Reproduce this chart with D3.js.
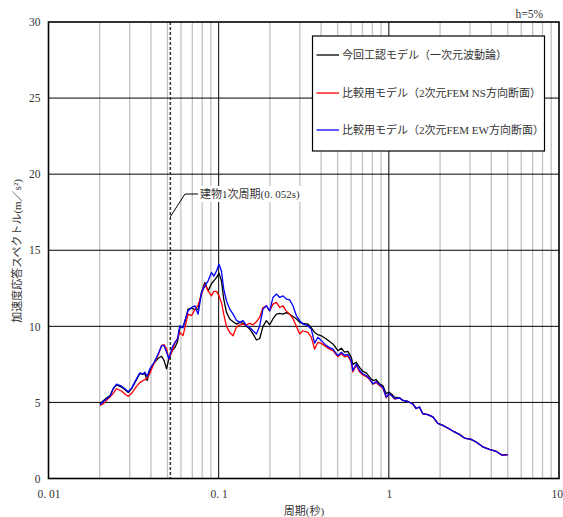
<!DOCTYPE html>
<html><head><meta charset="utf-8">
<script src="https://cdn.jsdelivr.net/npm/d3@7"></script>
<style>body{margin:0;background:#fff} svg{display:block}</style>
</head><body><svg id="chart" width="563" height="517"></svg>
<script>
// Period (s)
const periods = [0.0201,0.0209,0.0220,0.0230,0.0240,0.0251,0.0269,0.0281,0.0294,0.0308,
0.0329,0.0344,0.0360,0.0368,0.0380,0.0394,0.0418,0.0441,0.0462,0.0478,
0.0494,0.0510,0.0533,0.0553,0.0573,0.0591,0.0618,0.0633,0.0661,0.0693,
0.0724,0.0757,0.0793,0.0829,0.0867,0.0907,0.0936,0.0971,0.1005,0.1038,
0.1071,0.1111,0.1162,0.1215,0.1272,0.1330,0.1391,0.1456,0.1522,0.1592,
0.1667,0.1743,0.1822,0.1908,0.1995,0.2086,0.2184,0.2284,0.2388,0.2500,
0.2614,0.2733,0.2862,0.2992,0.3128,0.3346,0.3504,0.3664,0.3831,0.4012,
0.4292,0.4487,0.4693,0.5020,0.5257,0.5495,0.5745,0.6015,0.6147,0.6436,
0.6730,0.7037,0.7368,0.7704,0.8055,0.8435,0.8819,0.9221,0.9654,1.000,
1.037,1.080,1.156,1.208,1.293,1.383,1.448,1.514,1.583,1.694,
1.813,1.940,2.075,2.220,2.430,2.599,2.781,3.045,3.258,3.562,
3.899,4.268,4.630,5.000];
// 今回工認モデル（一次元波動論） (m/s2)
const accelOneDim = [4.9,5.1,5.3,5.45,5.9,6.15,6.0,5.85,5.65,5.9,
6.5,6.9,6.85,6.9,6.44,7.1,7.6,7.9,8.03,7.75,
7.2,7.9,8.4,8.6,9.0,9.9,10.0,10.3,11.13,11.2,
11.1,11.13,12.23,12.88,12.33,12.8,12.99,13.2,13.5,13.0,
11.79,10.92,10.48,10.3,10.15,10.26,10.2,10.0,9.82,9.5,
9.1,9.2,10.0,10.37,10.1,10.5,10.8,10.85,10.8,10.9,
10.8,10.65,10.5,10.26,10.2,10.15,9.9,9.6,9.45,9.38,
9.17,9.0,8.84,8.4,8.56,8.3,8.35,7.97,7.5,7.64,
7.3,7.05,6.94,6.66,6.44,6.5,6.22,6.11,5.57,5.68,
5.55,5.35,5.3,5.13,5.06,4.91,4.6,4.7,4.26,4.2,
4.05,3.62,3.49,3.32,3.06,2.9,2.66,2.57,2.4,2.08,
1.92,1.79,1.53,1.57];
// 比較用モデル（2次元FEM NS方向断面）
const accelNS = [4.8,4.9,5.15,5.35,5.6,5.9,5.75,5.55,5.4,5.6,
6.05,6.3,6.44,6.5,6.6,6.9,7.6,8.1,8.75,8.8,
8.5,7.86,8.4,8.9,9.2,9.6,9.4,9.9,10.8,10.7,
11.1,11.4,12.1,12.77,12.33,12.0,12.3,12.3,12.0,11.57,
10.8,10.0,9.6,9.38,9.95,10.1,10.15,10.1,10.2,10.1,
10.3,10.6,11.24,11.35,11.02,11.46,11.57,11.24,11.35,11.0,
10.8,10.5,10.0,9.5,9.71,9.6,9.28,8.51,8.95,8.88,
8.65,8.5,8.4,8.0,8.2,8.0,8.05,7.65,7.0,7.45,
7.0,6.8,6.7,6.5,6.2,6.3,6.1,5.95,5.3,5.55,
5.45,5.22,5.29,5.13,5.06,4.91,4.6,4.7,4.26,4.2,
4.05,3.62,3.49,3.32,3.06,2.9,2.66,2.57,2.4,2.08,
1.92,1.79,1.53,1.57];
// 比較用モデル（2次元FEM EW方向断面）
const accelEW = [4.85,5.04,5.24,5.4,5.9,6.2,6.07,5.9,5.7,5.94,
6.55,6.94,6.88,6.99,6.72,7.2,7.64,8.19,8.73,8.73,
8.3,7.86,8.62,8.95,9.17,10.04,9.9,10.37,11.02,11.24,
11.35,10.8,12.23,12.66,12.99,13.54,13.3,13.64,14.08,13.64,
12.44,11.68,11.13,10.8,10.4,10.26,10.37,10.04,9.93,9.71,
9.5,10.04,11.13,11.35,11.02,11.9,12.12,11.9,12.0,11.79,
11.74,11.35,10.7,10.37,10.15,10.04,9.8,8.9,9.28,9.06,
8.73,8.6,8.5,8.07,8.3,8.1,8.15,7.75,7.09,7.53,
7.1,6.88,6.77,6.55,6.22,6.37,6.16,6.0,5.35,5.57,
5.46,5.25,5.29,5.13,5.06,4.91,4.6,4.7,4.26,4.2,
4.05,3.62,3.49,3.32,3.06,2.9,2.66,2.57,2.4,2.08,
1.92,1.79,1.53,1.57];

const seriesNames = ["今回工認モデル（一次元波動論）","比較用モデル（2次元FEM NS方向断面）","比較用モデル（2次元FEM EW方向断面）"];
const seriesColors = ["#000000","#ff0000","#0000ff"];
const xTickValues = [0.01,0.1,1,10];
const xTickLabels = ["0. 01","0. 1","1","10"];
const yTickValues = [0,5,10,15,20,25,30];
const buildingPeriod = 0.052;
const annotationText = "建物1次周期(0. 052s)";
const dampingText = "h=5%";
const xTitle = "周期(秒)";
const yTitle = "加速度応答スペクトル(m／s²)";

const svg = d3.select("#chart");
const L = 48.5, R = 559, T = 22, B = 478.5;
const x = d3.scaleLog().domain([0.01,10]).range([L,R]);
const y = d3.scaleLinear().domain([0,30]).range([B,T]);
const serif = "'Liberation Serif','Noto Sans CJK JP',serif";
const cjk = "'Liberation Serif','Noto Sans CJK JP',sans-serif";

// minor vertical grid
const minor = [];
[0.01,0.1,1].forEach(d => { for (let k=2;k<=9;k++) minor.push(d*k); });
svg.append("g").selectAll("line").data(minor).join("line")
  .attr("x1",d=>x(d)).attr("x2",d=>x(d)).attr("y1",T).attr("y2",B)
  .attr("stroke","#c2c2c2").attr("stroke-width",1.3);
// major vertical grid
svg.append("g").selectAll("line").data([0.1,1]).join("line")
  .attr("x1",d=>x(d)).attr("x2",d=>x(d)).attr("y1",T).attr("y2",B)
  .attr("stroke","#000").attr("stroke-width",1);
// horizontal grid
svg.append("g").selectAll("line").data([5,10,15,20,25]).join("line")
  .attr("x1",L).attr("x2",R).attr("y1",d=>y(d)).attr("y2",d=>y(d))
  .attr("stroke","#000").attr("stroke-width",1);

// building period dashed line
svg.append("line").attr("x1",x(buildingPeriod)).attr("x2",x(buildingPeriod))
  .attr("y1",T).attr("y2",B).attr("stroke","#333").attr("stroke-width",1.5)
  .attr("stroke-dasharray","3,2");

// curves
const line = d3.line().x((d,i)=>x(periods[i])).y(d=>y(d));
[accelOneDim, accelNS, accelEW].forEach((s,i) => {
  svg.append("path").datum(s).attr("d",line).attr("fill","none")
    .attr("stroke",seriesColors[i]).attr("stroke-width",1.3).attr("stroke-linejoin","round");
});

// frame
svg.append("rect").attr("x",L).attr("y",T).attr("width",R-L).attr("height",B-T)
  .attr("fill","none").attr("stroke","#000").attr("stroke-width",1.6);

// axes
const xAxis = d3.axisBottom(x).tickValues(xTickValues).tickSize(0)
  .tickFormat((d,i)=>xTickLabels[i]);
const gx = svg.append("g").attr("transform",`translate(0,${B})`).call(xAxis);
gx.select(".domain").remove();
gx.selectAll("text").attr("font-family",serif).attr("font-size",11.5).attr("fill","#333").attr("dy","1.45em");
gx.selectAll("text").filter(d => d === 10).attr("text-anchor","end").attr("x",3.5);
const yAxis = d3.axisLeft(y).tickValues(yTickValues).tickSize(0).tickFormat(d3.format("d"));
const gy = svg.append("g").attr("transform",`translate(${L},0)`).call(yAxis);
gy.select(".domain").remove();
gy.selectAll("text").attr("font-family",serif).attr("font-size",11.5).attr("fill","#333").attr("x",-8);

svg.append("text").attr("x",304).attr("y",515).attr("text-anchor","middle")
  .attr("font-family",cjk).attr("font-size",11).attr("fill","#333").text(xTitle);
svg.append("text").attr("transform","translate(21,251) rotate(-90)").attr("text-anchor","middle")
  .attr("font-family",cjk).attr("font-size",11).attr("fill","#333").text(yTitle);
svg.append("text").attr("x",543).attr("y",18).attr("text-anchor","end")
  .attr("font-family",serif).attr("font-size",11.5).attr("fill","#333").text(dampingText);

// annotation
svg.append("rect").attr("x",199).attr("y",186).attr("width",110).attr("height",16).attr("fill","#fff");
svg.append("path").attr("d",`M${x(buildingPeriod)},${y(17.2)} L185,194 L198,194`)
  .attr("fill","none").attr("stroke","#000").attr("stroke-width",1);
svg.append("text").attr("x",200).attr("y",198).attr("font-family",cjk).attr("font-size",11)
  .attr("fill","#333").text(annotationText);

// legend
const lg = svg.append("g");
lg.append("rect").attr("x",312.5).attr("y",36).attr("width",232).attr("height",115)
  .attr("fill","#fff").attr("stroke","#000").attr("stroke-width",1.2);
const ly = [55,93,130];
seriesNames.forEach((n,i) => {
  lg.append("line").attr("x1",316.5).attr("x2",339).attr("y1",ly[i]).attr("y2",ly[i])
    .attr("stroke",seriesColors[i]).attr("stroke-width",1.3);
  lg.append("text").attr("x",342).attr("y",ly[i]+4).attr("font-family",cjk).attr("font-size",11)
    .attr("fill","#333").text(n);
});
</script></body></html>
